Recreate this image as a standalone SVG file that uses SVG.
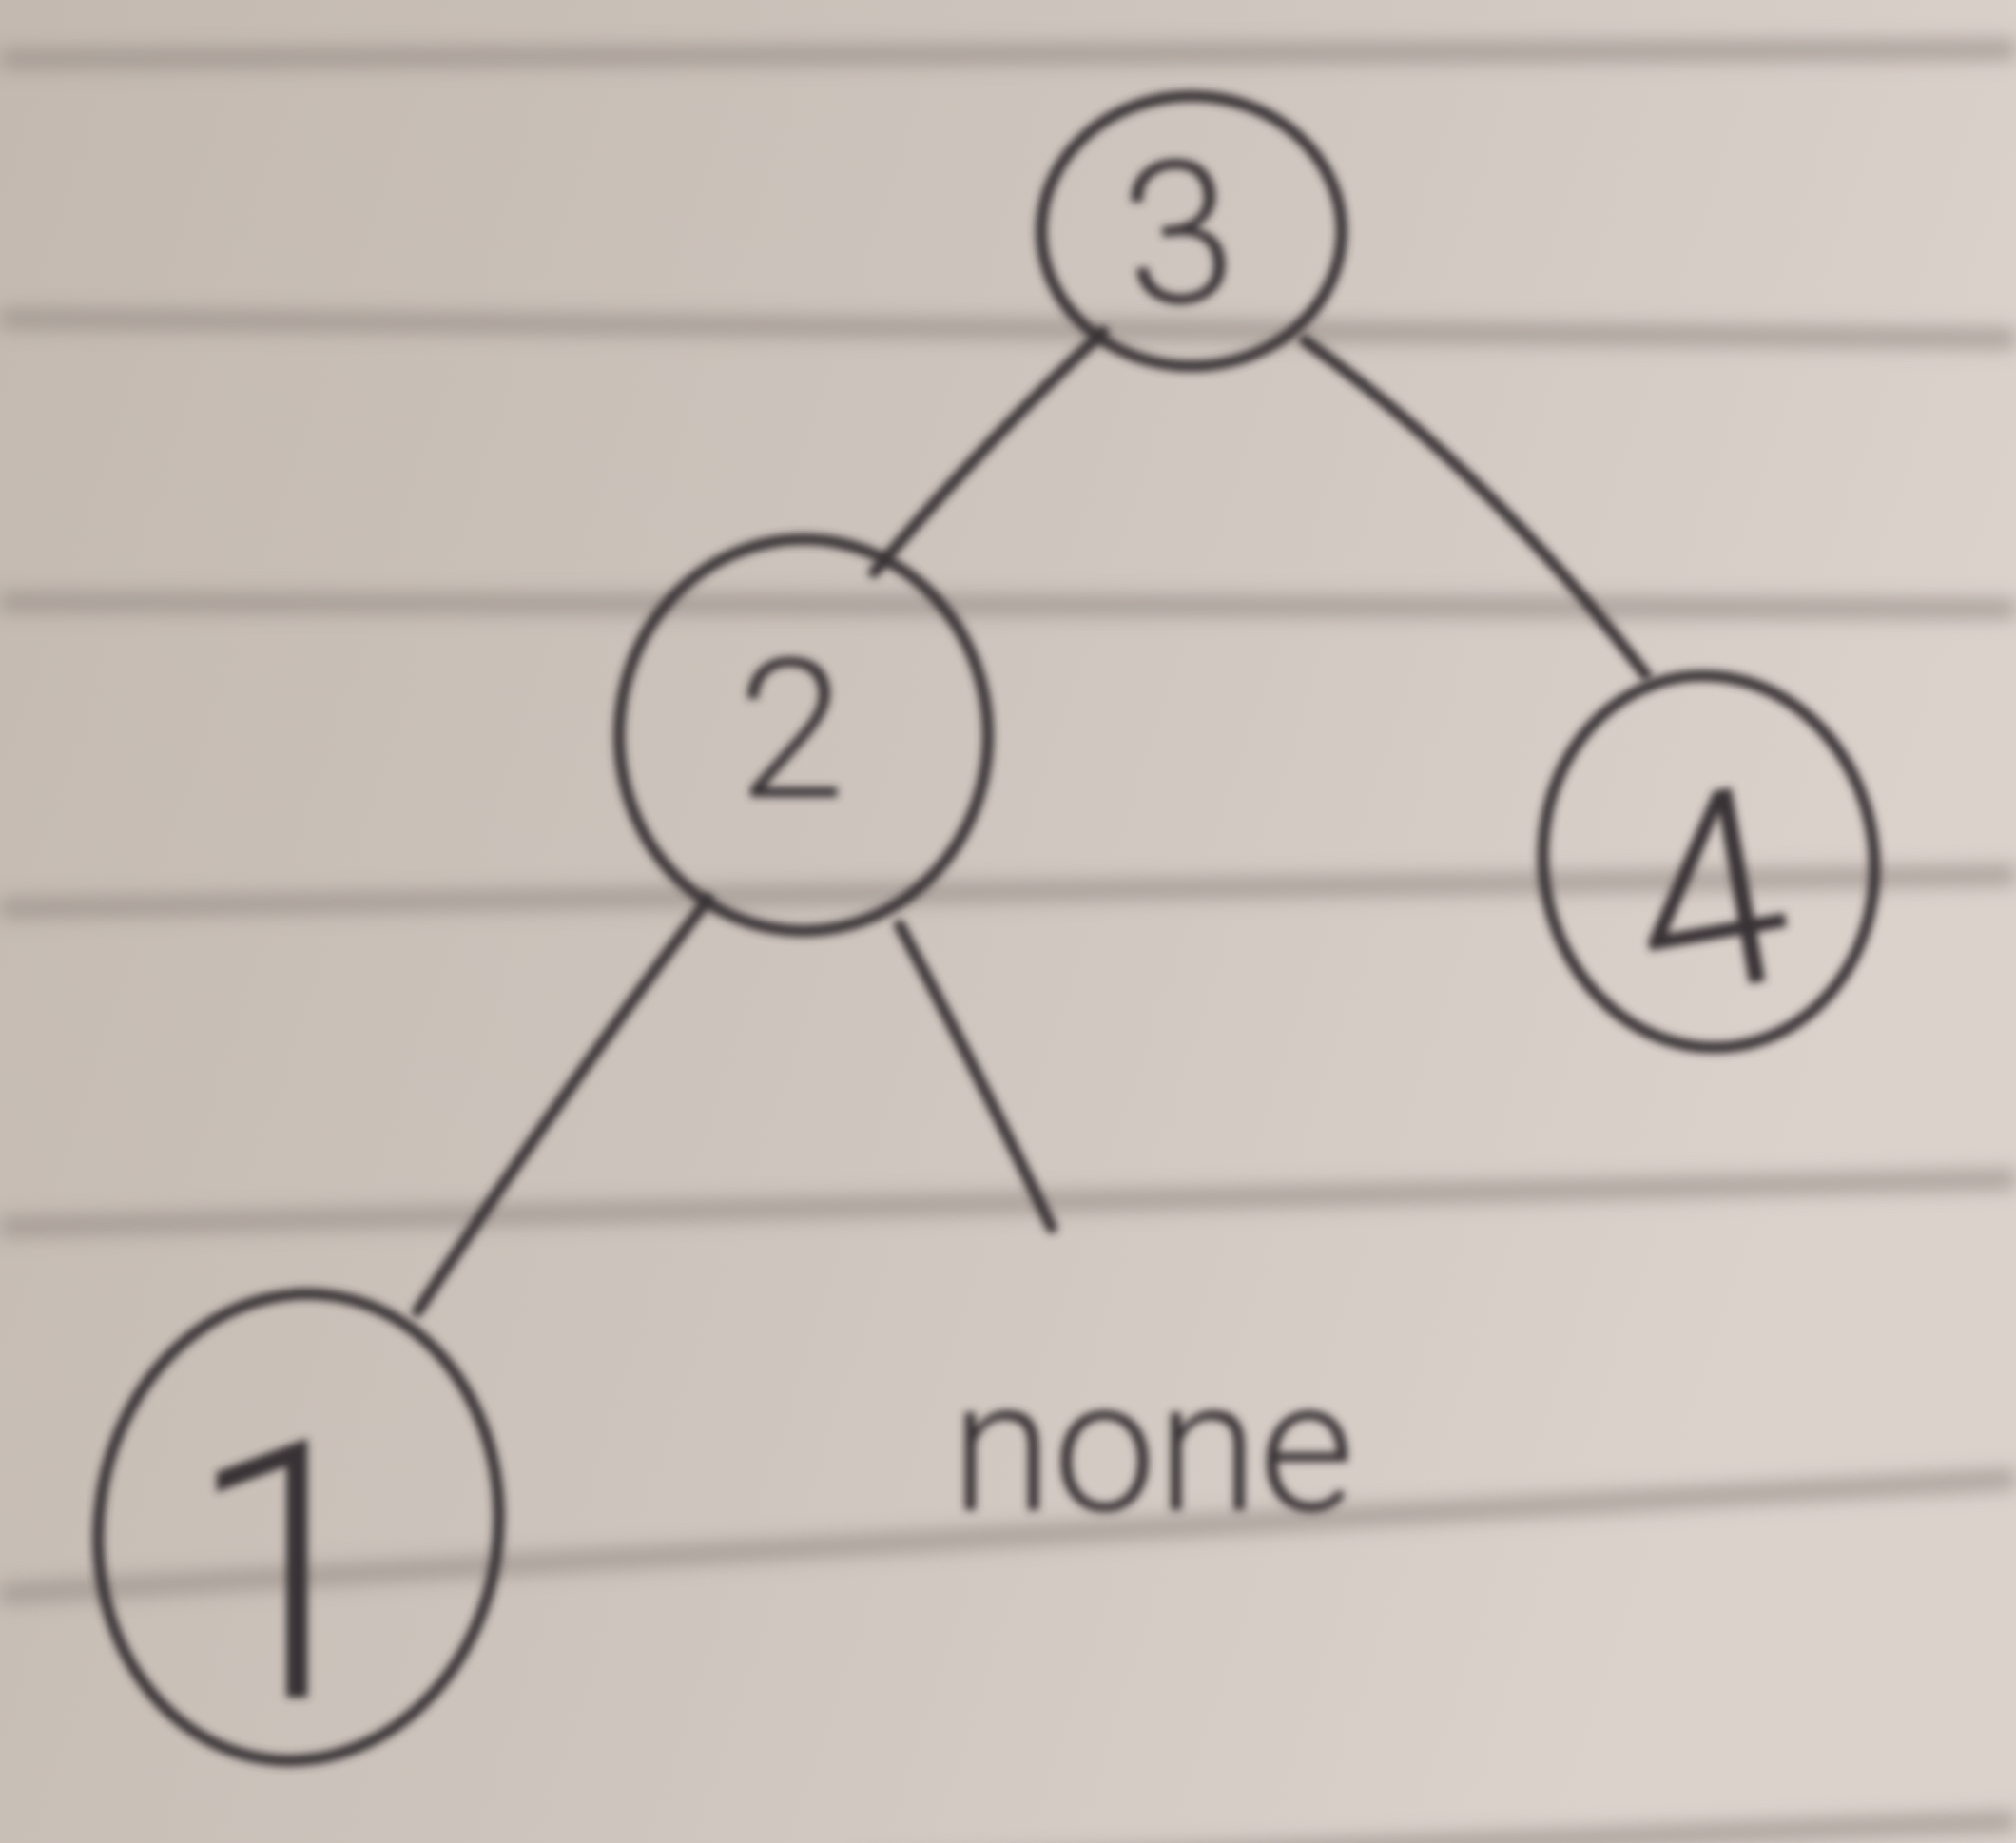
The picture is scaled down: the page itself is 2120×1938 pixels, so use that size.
<svg xmlns="http://www.w3.org/2000/svg" width="2120" height="1938" viewBox="0 0 2120 1938">
<defs>
<linearGradient id="paper" x1="0" y1="0" x2="1" y2="0.3">
<stop offset="0" stop-color="#c3b9b0"/>
<stop offset="0.55" stop-color="#cec5be"/>
<stop offset="1" stop-color="#dcd2cc"/>
</linearGradient>
<filter id="blur" x="-5%" y="-5%" width="110%" height="110%"><feGaussianBlur stdDeviation="4"/></filter>
<filter id="blur2" x="-5%" y="-50%" width="110%" height="200%"><feGaussianBlur stdDeviation="10"/></filter>
<style>
.rule{fill:none;stroke:#988f88;stroke-width:20;opacity:0.75}
.ink{fill:none;stroke:#393234;stroke-width:12;stroke-linecap:round}
.lbl{font-family:Roboto,"Liberation Sans",sans-serif;font-weight:300;fill:#393234;text-anchor:middle}
</style>
</defs>
<rect width="2120" height="1938" fill="url(#paper)"/>
<g id="ruled-lines" filter="url(#blur2)">
<path class="rule" d="M0 62 L2120 52"/>
<path class="rule" d="M0 335 L2120 356"/>
<path class="rule" d="M0 633 L2120 640"/>
<path class="rule" d="M0 955 L2120 920"/>
<path class="rule" d="M0 1290 L2120 1240"/>
<path class="rule" d="M0 1676 L2120 1555"/>
<path class="rule" d="M900 1965 L2120 1915"/>
</g>
<g id="connectors" filter="url(#blur)">
<path class="ink" d="M1160 349 Q1030 470 919 602"/>
<path class="ink" d="M1372 358 Q1570 500 1731 710"/>
<path class="ink" d="M744 946 Q590 1150 439 1379"/>
<path class="ink" d="M946 973 Q1030 1130 1106 1291"/>
</g>
<g id="node-3" filter="url(#blur)">
<ellipse class="ink" cx="1253" cy="243" rx="158" ry="142"/>
<text class="lbl" x="1240" y="318" font-size="210" transform="rotate(-6 1240 250)">3</text>
</g>
<g id="node-2" filter="url(#blur)">
<ellipse class="ink" cx="845" cy="773" rx="194" ry="206"/>
<text class="lbl" x="832" y="838" font-size="205">2</text>
</g>
<g id="node-4" filter="url(#blur)">
<ellipse class="ink" cx="1797" cy="906" rx="174" ry="196" transform="rotate(-8 1797 906)"/>
<text class="lbl" x="1800" y="1040" font-size="290" transform="rotate(-10 1800 960)">4</text>
</g>
<g id="node-1" filter="url(#blur)">
<ellipse class="ink" cx="314" cy="1606" rx="210" ry="246" transform="rotate(8 314 1606)"/>
<text class="lbl" x="300" y="1785" font-size="380" font-weight="200">1</text>
</g>
<g id="none-label" filter="url(#blur)">
<text class="lbl" x="1212" y="1588" font-size="195" font-weight="500">none</text>
</g>
</svg>
